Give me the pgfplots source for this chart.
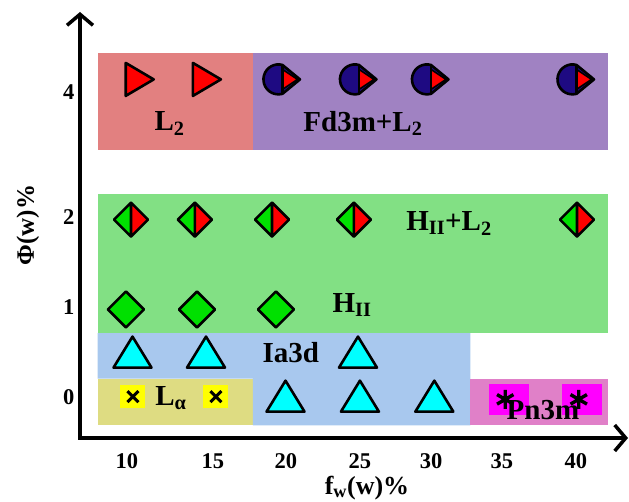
\documentclass[border=0pt]{standalone}
\usepackage{fontspec}
\setmainfont{Liberation Serif}
\usepackage{pgfplots}
\pgfplotsset{compat=1.18}
\usetikzlibrary{arrows.meta,calc}

\definecolor{cLtwo}{HTML}{E28080}
\definecolor{cFd}{HTML}{A082C2}
\definecolor{cGreen}{HTML}{82E084}
\definecolor{cIa}{HTML}{A8C8EE}
\definecolor{cLa}{HTML}{DEDC82}
\definecolor{cPn}{HTML}{E080C8}
\definecolor{mGreen}{HTML}{00E000}
\definecolor{mNavy}{HTML}{1E0A82}
\definecolor{mCyan}{HTML}{00FFFF}
\definecolor{mMag}{HTML}{FF00FF}
\definecolor{mYel}{HTML}{FFFF00}

% right-pointing red triangle (L2)
\pgfdeclareplotmark{rtri}{%
  \pgfsetlinewidth{2.6pt}\pgfsetroundjoin
  \pgfsetstrokecolor{black}\pgfsetfillcolor{red}%
  \pgfpathmoveto{\pgfpoint{-11pt}{16.5pt}}%
  \pgfpathlineto{\pgfpoint{17pt}{0pt}}%
  \pgfpathlineto{\pgfpoint{-11pt}{-16.5pt}}%
  \pgfpathclose
  \pgfusepath{fill,stroke}}
% up triangle (Ia3d)
\pgfdeclareplotmark{utri}{%
  \pgfsetlinewidth{2.6pt}\pgfsetroundjoin
  \pgfsetstrokecolor{black}\pgfsetfillcolor{mCyan}%
  \pgfpathmoveto{\pgfpoint{-19pt}{-15pt}}%
  \pgfpathlineto{\pgfpoint{19pt}{-15pt}}%
  \pgfpathlineto{\pgfpoint{0pt}{16pt}}%
  \pgfpathclose
  \pgfusepath{fill,stroke}}
% green diamond (HII)
\pgfdeclareplotmark{gdia}{%
  \pgfsetlinewidth{2.6pt}\pgfsetroundjoin
  \pgfsetstrokecolor{black}\pgfsetfillcolor{mGreen}%
  \pgfpathmoveto{\pgfpoint{0pt}{18pt}}%
  \pgfpathlineto{\pgfpoint{-18pt}{0pt}}%
  \pgfpathlineto{\pgfpoint{0pt}{-18pt}}%
  \pgfpathlineto{\pgfpoint{18pt}{0pt}}%
  \pgfpathclose
  \pgfusepath{fill,stroke}}
% half green / half red diamond (HII+L2)
\pgfdeclareplotmark{hdia}{%
  \pgfsetlinewidth{2.6pt}\pgfsetroundjoin
  \pgfsetstrokecolor{black}\pgfsetfillcolor{mGreen}%
  \pgfpathmoveto{\pgfpoint{0pt}{17pt}}%
  \pgfpathlineto{\pgfpoint{-17pt}{0pt}}%
  \pgfpathlineto{\pgfpoint{0pt}{-17pt}}%
  \pgfpathclose
  \pgfusepath{fill}%
  \pgfsetfillcolor{red}%
  \pgfpathmoveto{\pgfpoint{0pt}{17pt}}%
  \pgfpathlineto{\pgfpoint{17pt}{0pt}}%
  \pgfpathlineto{\pgfpoint{0pt}{-17pt}}%
  \pgfpathclose
  \pgfusepath{fill}%
  \pgfpathmoveto{\pgfpoint{0pt}{17pt}}%
  \pgfpathlineto{\pgfpoint{-17pt}{0pt}}%
  \pgfpathlineto{\pgfpoint{0pt}{-17pt}}%
  \pgfpathlineto{\pgfpoint{17pt}{0pt}}%
  \pgfpathclose
  \pgfpathmoveto{\pgfpoint{0pt}{17pt}}%
  \pgfpathlineto{\pgfpoint{0pt}{-17pt}}%
  \pgfusepath{stroke}}
% navy half circle with red triangle (Fd3m+L2)
\pgfdeclareplotmark{ctri}{%
  \pgfsetlinewidth{2.6pt}\pgfsetroundjoin
  \pgfsetstrokecolor{black}\pgfsetfillcolor{mNavy}%
  \pgfpathmoveto{\pgfpoint{4pt}{14.45pt}}%
  \pgfpatharc{74.5}{285.5}{15pt}%
  \pgfpathlineto{\pgfpoint{21.5pt}{0pt}}%
  \pgfpathclose
  \pgfusepath{fill,stroke}%
  \pgfsetlinewidth{1.6pt}\pgfsetfillcolor{red}%
  \pgfpathmoveto{\pgfpoint{4pt}{10pt}}%
  \pgfpathlineto{\pgfpoint{19pt}{0pt}}%
  \pgfpathlineto{\pgfpoint{4pt}{-10pt}}%
  \pgfpathclose
  \pgfusepath{fill,stroke}%
  \pgfsetlinewidth{2.6pt}%
  \pgfpathmoveto{\pgfpoint{4pt}{14.45pt}}%
  \pgfpathlineto{\pgfpoint{4pt}{-14.45pt}}%
  \pgfusepath{stroke}}
% yellow square with cross (L alpha)
\pgfdeclareplotmark{lal}{%
  \pgfsetfillcolor{mYel}%
  \pgfpathrectangle{\pgfpoint{-12.5pt}{-11.5pt}}{\pgfpoint{25pt}{23pt}}%
  \pgfusepath{fill}%
  \pgfsetlinewidth{3pt}\pgfsetstrokecolor{black}%
  \pgfpathmoveto{\pgfpoint{-5.5pt}{-5.5pt}}\pgfpathlineto{\pgfpoint{5.5pt}{5.5pt}}%
  \pgfpathmoveto{\pgfpoint{-5.5pt}{5.5pt}}\pgfpathlineto{\pgfpoint{5.5pt}{-5.5pt}}%
  \pgfusepath{stroke}}
% magenta square with asterisk (Pn3m)
\pgfdeclareplotmark{pst}{%
  \pgfsetfillcolor{mMag}%
  \pgfpathrectangle{\pgfpoint{-20pt}{-15.5pt}}{\pgfpoint{40pt}{31pt}}%
  \pgfusepath{fill}%
  \pgfsetlinewidth{3.4pt}\pgfsetstrokecolor{black}%
  \pgfpathmoveto{\pgfpoint{-3.5pt}{9.5pt}}\pgfpathlineto{\pgfpoint{-3.5pt}{-9.5pt}}%
  \pgfpathmoveto{\pgfpoint{-11.7pt}{4.75pt}}\pgfpathlineto{\pgfpoint{4.7pt}{-4.75pt}}%
  \pgfpathmoveto{\pgfpoint{-11.7pt}{-4.75pt}}\pgfpathlineto{\pgfpoint{4.7pt}{4.75pt}}%
  \pgfusepath{stroke}}

\newcommand{\phfont}{\fontsize{29}{31}\selectfont\bfseries}

\begin{document}
\begin{tikzpicture}
\begin{axis}[
  scale only axis, width=548pt, height=426pt,
  xmin=6.87, xmax=43.4, ymin=-0.46, ymax=4.28,
  axis lines=left,
  axis line style={line width=3.5pt, line cap=rect, -{Straight Barb[length=11pt,width=26pt]}},
  xtick={10,15.73,20.6,25.53,30.27,35,39.93},
  xticklabels={10,15,20,25,30,35,40},
  ytick={0,1,2,3.39}, yticklabels={0,1,2,4},
  major tick length=0pt,
  tick label style={font=\fontsize{22.5}{24}\selectfont\bfseries},
  xticklabel style={yshift=-12pt},
  yticklabel style={xshift=-2pt},
  xlabel={f\textsubscript{w}(w)\%},
  ylabel={Φ(w)\%},
  xlabel style={font=\fontsize{26}{28}\selectfont\bfseries, at={(axis description cs:0.5237,-0.117)}, anchor=center},
  ylabel style={font=\fontsize{25}{27}\selectfont\bfseries, at={(axis description cs:-0.095,0.5)}, anchor=center},
  clip=false,
]
% phase regions
\addplot[fill=cLa, draw=none, forget plot] coordinates {(8.04,-0.32) (18.4,-0.32) (18.4,0.2) (8.04,0.2)} -- cycle;
\addplot[fill=cIa, draw=none, forget plot] coordinates {(8.04,0.71) (32.9,0.71) (32.9,-0.32) (18.4,-0.32) (18.4,0.2) (8.04,0.2)} -- cycle;
\addplot[fill=cPn, draw=none, forget plot] coordinates {(32.9,-0.32) (42.07,-0.32) (42.07,0.2) (32.9,0.2)} -- cycle;
\addplot[fill=cGreen, draw=none, forget plot] coordinates {(8.04,0.71) (42.07,0.71) (42.07,2.26) (8.04,2.26)} -- cycle;
\addplot[fill=cLtwo, draw=none, forget plot] coordinates {(8.04,2.74) (18.4,2.74) (18.4,3.82) (8.04,3.82)} -- cycle;
\addplot[fill=cFd, draw=none, forget plot] coordinates {(18.4,2.74) (42.07,2.74) (42.07,3.82) (18.4,3.82)} -- cycle;
% data points
\addplot[only marks, mark=rtri] coordinates {(10.65,3.53) (15.13,3.53)};
\addplot[only marks, mark=ctri] coordinates {(20.1,3.53) (25.2,3.53) (30.0,3.53) (39.7,3.53)};
\addplot[only marks, mark=hdia] coordinates {(10.27,1.97) (14.53,1.97) (19.67,1.97) (25.13,1.97) (40.0,1.97)};
\addplot[only marks, mark=gdia] coordinates {(9.93,0.97) (14.67,0.97) (19.93,0.97)};
\addplot[only marks, mark=utri] coordinates {(10.37,0.49) (15.27,0.49) (25.4,0.49)};
\addplot[only marks, mark=utri] coordinates {(20.57,0) (25.53,0) (30.49,0)};
\addplot[only marks, mark=lal] coordinates {(10.4,0) (15.93,0)};
\addplot[only marks, mark=pst] coordinates {(35.45,-0.03) (40.35,-0.03)};
% phase labels
\node[font=\phfont] at (axis cs:12.84,3.04) {L\textsubscript{2}};
\node[font=\phfont] at (axis cs:25.73,3.04) {Fd3m+L\textsubscript{2}};
\node[font=\phfont] at (axis cs:31.47,1.93) {H\textsubscript{II}+L\textsubscript{2}};
\node[font=\phfont] at (axis cs:25.0,1.02) {H\textsubscript{II}};
\node[font=\phfont] at (axis cs:20.93,0.49) {Ia3d};
\node[font=\phfont] at (axis cs:12.93,-0.02) {L\textsubscript{α}};
\coordinate (pnlab) at (axis cs:37.73,-0.15);
\coordinate (bbSW) at (rel axis cs:0,0);
\coordinate (bbNE) at (rel axis cs:1,1);
\end{axis}
\node[font=\phfont] at (pnlab) {Pn3m};
\pgfresetboundingbox
\path[use as bounding box] ($(bbSW)+(-80pt,-64pt)$) rectangle ($(bbNE)+(1pt,12pt)$);
\end{tikzpicture}
\end{document}
